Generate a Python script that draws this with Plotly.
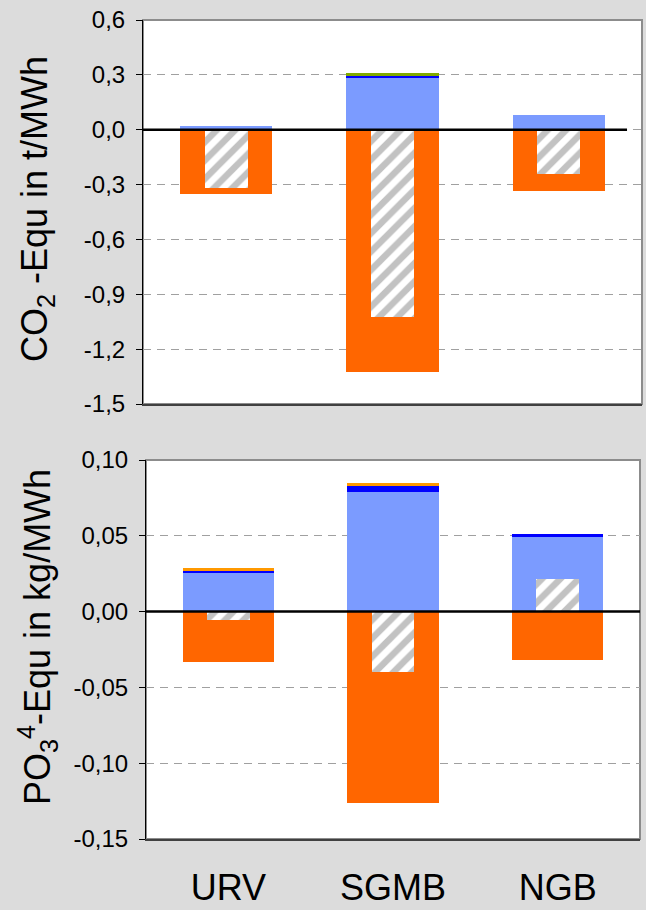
import numpy as np
import plotly.graph_objects as go

CATEGORIES = ["URV", "SGMB", "NGB"]

# CO2 equivalents in t/MWh
CO2_LIGHT_BLUE = [0.02, 0.285, 0.082]
CO2_DARK_BLUE = [0.0, 0.011, 0.0]
CO2_GREEN = [0.0, 0.016, 0.0]
CO2_ORANGE = [-0.35, -1.327, -0.337]
CO2_NET = [-0.32, -1.022, -0.24]

# PO4 equivalents in kg/MWh
PO4_LIGHT_BLUE = [0.0256, 0.079, 0.0494]
PO4_DARK_BLUE = [0.0013, 0.004, 0.0018]
PO4_TOP = [0.002, 0.002, 0.0]
PO4_ORANGE = [-0.033, -0.126, -0.0317]
PO4_NET = [-0.0055, -0.040, 0.0216]

CO2_TICKS = [-1.5, -1.2, -0.9, -0.6, -0.3, 0.0, 0.3, 0.6]
CO2_TICK_TEXT = ["-1,5", "-1,2", "-0,9", "-0,6", "-0,3", "0,0", "0,3", "0,6"]
PO4_TICKS = [-0.15, -0.10, -0.05, 0.0, 0.05, 0.10]
PO4_TICK_TEXT = ["-0,15", "-0,10", "-0,05", "0,00", "0,05", "0,10"]

W, H = 646, 910
FONT = "Liberation Sans, Arial, sans-serif"
ORANGE = "#ff6600"
LIGHT_BLUE = "#7b9bff"
DARK_BLUE = "#0000ff"
GREEN = "#80aa00"
TOP_ORANGE = "#ff9900"
BAR_W = 0.555
NET_W = 0.26

fig = go.Figure()


def add_panel(xa, ya, light, dark, top, top_color, orange, net):
    light = np.array(light)
    dark = np.array(dark)
    top = np.array(top)
    common = dict(x=CATEGORIES, xaxis=xa, yaxis=ya, showlegend=False,
                  marker_line_width=0)
    fig.add_trace(go.Bar(y=orange, base=0, width=BAR_W,
                         marker_color=ORANGE, **common))
    fig.add_trace(go.Bar(y=light, base=0, width=BAR_W,
                         marker_color=LIGHT_BLUE, **common))
    fig.add_trace(go.Bar(y=dark, base=light, width=BAR_W,
                         marker_color=DARK_BLUE, **common))
    fig.add_trace(go.Bar(y=top, base=light + dark, width=BAR_W,
                         marker_color=top_color, **common))
    fig.add_trace(go.Bar(y=net, base=0, width=NET_W,
                         marker=dict(color="white", line_width=0,
                                     pattern=dict(shape="/", fgcolor="#858585",
                                                  bgcolor="white", size=13,
                                                  solidity=0.5)),
                         x=CATEGORIES, xaxis=xa, yaxis=ya, showlegend=False))


add_panel("x", "y", CO2_LIGHT_BLUE, CO2_DARK_BLUE, CO2_GREEN, GREEN,
          CO2_ORANGE, CO2_NET)
add_panel("x2", "y2", PO4_LIGHT_BLUE, PO4_DARK_BLUE, PO4_TOP, TOP_ORANGE,
          PO4_ORANGE, PO4_NET)

yaxis_common = dict(
    ticks="outside", ticklen=6, tickcolor="black", tickwidth=1,
    showline=True, linecolor="black", linewidth=1,
    showgrid=True, gridcolor="#a0a0a0", gridwidth=1, griddash="8px,6px",
    zeroline=False, tickfont=dict(family=FONT, size=24, color="black"),
    ticklabelstandoff=6, fixedrange=True, automargin=False,
)
xaxis_common = dict(
    type="category", categoryorder="array", categoryarray=CATEGORIES,
    range=[-0.5, 2.5], showgrid=False, zeroline=False, ticks="",
    showline=True, linecolor="#404040", linewidth=2, automargin=False,
)

fig.update_layout(
    width=W, height=H, autosize=False,
    margin=dict(l=0, r=0, t=0, b=0),
    paper_bgcolor="#dcdcdc", plot_bgcolor="white",
    barmode="overlay", bargap=0,
    xaxis=dict(domain=[143 / W, 642 / W], anchor="y", showticklabels=False,
               **xaxis_common),
    yaxis=dict(domain=[1 - 404 / H, 1 - 20 / H], anchor="x",
               range=[-1.5, 0.6], tickvals=CO2_TICKS, ticktext=CO2_TICK_TEXT,
               **yaxis_common),
    xaxis2=dict(domain=[146 / W, 640 / W], anchor="y2", showticklabels=True,
                tickfont=dict(family=FONT, size=36, color="black"),
                ticklabelstandoff=16, **xaxis_common),
    yaxis2=dict(domain=[1 - 839 / H, 1 - 460 / H], anchor="x2",
                range=[-0.15, 0.10], tickvals=PO4_TICKS,
                ticktext=PO4_TICK_TEXT, **yaxis_common),
)

# plot-area frames and zero baselines
for xr, yr, x1 in (("x", "y", 0.97), ("x2", "y2", 1.0)):
    fig.add_shape(type="rect", xref=f"{xr} domain", yref=f"{yr} domain",
                  x0=0, x1=1, y0=0, y1=1, line=dict(color="#8c8c8c", width=2),
                  layer="below")
    fig.add_shape(type="line", xref=f"{xr} domain", yref=yr,
                  x0=0, x1=x1, y0=0, y1=0, line=dict(color="black", width=2.5),
                  layer="above")

# rotated axis titles
fig.add_annotation(text="CO<sub>2</sub> -Equ in t/MWh", xref="paper",
                   yref="paper", x=37 / W, y=1 - 209 / H, textangle=-90,
                   showarrow=False, xanchor="center", yanchor="middle",
                   font=dict(family=FONT, size=36, color="black"))
fig.add_annotation(text="PO<sub>3</sub><sup>4</sup>-Equ in kg/MWh",
                   xref="paper", yref="paper", x=37 / W, y=1 - 637 / H,
                   textangle=-90, showarrow=False, xanchor="center",
                   yanchor="middle",
                   font=dict(family=FONT, size=36, color="black"))

fig.write_html("out.html")
